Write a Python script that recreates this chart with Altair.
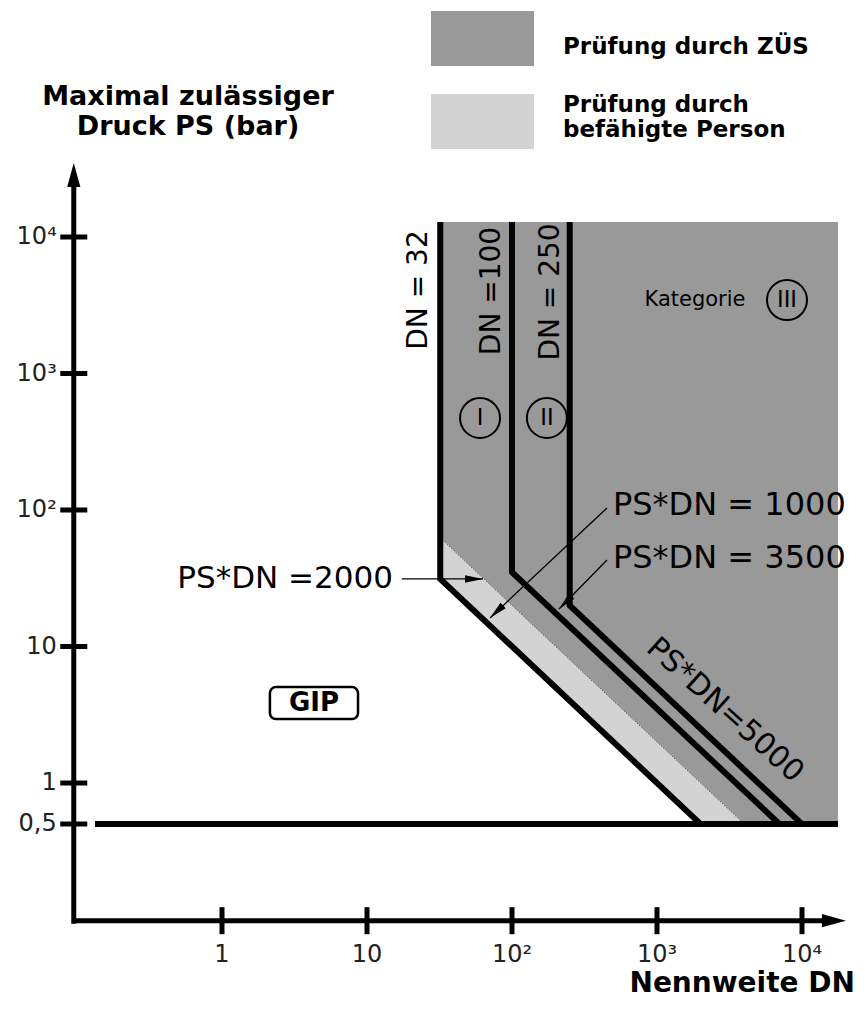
import math
import altair as alt
import pandas as pd

# ---------------- data ----------------
zone_labels = ["Prüfung durch ZÜS", "Prüfung durch|befähigte Person"]
zone_colors = ["#999999", "#d3d3d3"]

# dark zone (ZÜS): above PS*DN = 2000 and right of DN = 32
dark_dn = [32, 4000, 17700]
dark_low = [62.5, 0.5, 0.5]
dark_high = [12900, 12900, 12900]
# light zone (befähigte Person): between PS*DN = 1000 and PS*DN = 2000
light_dn = [32, 2000, 4000]
light_low = [31.25, 0.5, 0.5]
light_high = [62.5, 1.0, 0.5]

limit_dn = [32, 100, 250]            # vertical DN limits
limit_ps_corner = [31.25, 35, 20]    # PS*DN = 1000, 3500, 5000 at the DN limit
limit_dn_end = [2000, 7000, 10000]   # where each PS*DN line reaches PS = 0.5
ps_top = 12900
ps_base = 0.5
base_dn = [0.133, 17700]

boundary_dn = [32, 4000]             # PS*DN = 2000 boundary
boundary_ps = [62.5, 0.5]

x_tick_vals = [1, 10, 100, 1000, 10000]
x_tick_text = ["1", "10", "10²", "10³", "10⁴"]
y_tick_vals = [10000, 1000, 100, 10, 1, 0.5]
y_tick_text = ["10⁴", "10³", "10²", "10", "1", "0,5"]

axis_dn = 0.095
axis_ps = 0.098
y_axis_ps = [0.093, 28000]
x_axis_dn = [0.093, 15800]
y_arrow_ps = 34800
x_arrow_dn = 20100

leader_dn_from = [17.4, 452, 452]
leader_ps_from = [31.25, 103.5, 43.0]
leader_dn_to = [63.1, 70.5, 211]
leader_ps_to = [31.25, 16.2, 18.8]

right_label_text = ["PS*DN =2000"]
right_label_dn = [15.1]
right_label_ps = [31.25]
left_label_text = ["PS*DN  =  1000", "PS*DN  =  3500"]
left_label_dn = [497, 497]
left_label_ps = [108.8, 44.5]

diag_text = ["PS*DN=5000"]
diag_dn = [2944]
diag_ps = [3.42]

dn_text = ["DN = 32", "DN =100", "DN = 250"]
dn_text_dn = [22.8, 72.8, 185.7]
dn_text_ps = [4090, 4020, 3955]

cat_text = ["Kategorie"]
cat_dn = [1828]
cat_ps = [3453]

roman_text = ["I", "II", "III"]
roman_dn = [60.2, 174, 7880]
roman_ps = [472, 472, 3453]

gip_text = ["GIP"]
gip_dn = [4.31]
gip_ps = [3.86]
gip_box_dn = [2.14, 8.67]
gip_box_ps = [5.05, 2.94]

ytitle_text = ["Maximal zulässiger", "Druck PS (bar)"]
ytitle_dn = [0.583, 0.583]
ytitle_ps = [106000, 63900]

xtitle_text = ["Nennweite DN"]
xtitle_dn = [23200]
xtitle_ps = [0.0335]

# ---------------- scales ----------------
W, H = 849, 995
X_LOG = (-1.47586, 4.37931)
Y_LOG = (-1.61172, 5.67766)
xs = alt.Scale(type="log", domain=[10 ** X_LOG[0], 10 ** X_LOG[1]], nice=False)
ys = alt.Scale(type="log", domain=[10 ** Y_LOG[0], 10 ** Y_LOG[1]], nice=False)
PX_X = W / (X_LOG[1] - X_LOG[0])
PX_Y = H / (Y_LOG[1] - Y_LOG[0])


def X(f):
    return alt.X(f, type="quantitative", scale=xs, axis=None)


def Y(f):
    return alt.Y(f, type="quantitative", scale=ys, axis=None, stack=False)


FONT = "DejaVu Sans"

# ---------------- layers ----------------
zones = pd.DataFrame({
    "zone": [zone_labels[0]] * 3 + [zone_labels[1]] * 3,
    "dn": dark_dn + light_dn,
    "low": dark_low + light_low,
    "high": dark_high + light_high,
})
areas = alt.Chart(zones).mark_area(opacity=1, interpolate="linear").encode(
    x=X("dn"), y=Y("low"), y2=alt.Y2("high"),
    color=alt.Color(
        "zone:N",
        scale=alt.Scale(domain=zone_labels, range=zone_colors),
        legend=alt.Legend(
            title=None, orient="none", legendX=447, legendY=-14, direction="vertical",
            symbolType="M-1.8727,-0.3818H1.8727V1.6182H-1.8727Z", symbolSize=3025,
            symbolStrokeWidth=0, symbolOpacity=1,
            labelFont=FONT, labelFontSize=23, labelFontWeight="bold",
            labelColor="black", labelOffset=53, labelLimit=500,
            rowPadding=10, padding=0,
            labelExpr="length(split(datum.label, '|')) > 1 ? split(datum.label, '|') : ['', datum.label]",
        ),
    ),
)

boundary = alt.Chart(pd.DataFrame({
    "dn": [boundary_dn[0]], "ps": [boundary_ps[0]],
    "dn2": [boundary_dn[1]], "ps2": [boundary_ps[1]],
})).mark_rule(color="#555555", strokeWidth=1, strokeDash=[1.5, 1.5]).encode(
    x=X("dn"), y=Y("ps"), x2="dn2", y2="ps2")

rows = []
for dn, pc, de in zip(limit_dn, limit_ps_corner, limit_dn_end):
    rows += [dict(line=str(dn), k=0, dn=dn, ps=ps_top),
             dict(line=str(dn), k=1, dn=dn, ps=pc),
             dict(line=str(dn), k=2, dn=de, ps=ps_base)]
limits = alt.Chart(pd.DataFrame(rows)).mark_line(
    color="black", strokeWidth=6, strokeJoin="miter", strokeCap="butt").encode(
    x=X("dn"), y=Y("ps"), detail="line:N", order=alt.Order("k:Q"))

base = alt.Chart(pd.DataFrame({"dn": [base_dn[0]], "dn2": [base_dn[1]], "ps": [ps_base]})).mark_rule(
    color="black", strokeWidth=6).encode(x=X("dn"), x2="dn2", y=Y("ps"))

yaxis = alt.Chart(pd.DataFrame({"dn": [axis_dn], "ps": [y_axis_ps[0]], "ps2": [y_axis_ps[1]]})).mark_rule(
    color="black", strokeWidth=5).encode(x=X("dn"), y=Y("ps"), y2="ps2")
xaxis = alt.Chart(pd.DataFrame({"dn": [x_axis_dn[0]], "dn2": [x_axis_dn[1]], "ps": [axis_ps]})).mark_rule(
    color="black", strokeWidth=5).encode(x=X("dn"), x2="dn2", y=Y("ps"))

yarrow = alt.Chart(pd.DataFrame({"dn": [axis_dn], "ps": [y_arrow_ps]})).mark_point(
    shape="M0,0L-0.55,2L0.55,2Z", size=576, filled=True, color="black", opacity=1, strokeWidth=0).encode(
    x=X("dn"), y=Y("ps"))
xarrow = alt.Chart(pd.DataFrame({"dn": [x_arrow_dn], "ps": [axis_ps]})).mark_point(
    shape="M0,0L-2,-0.55L-2,0.55Z", size=576, filled=True, color="black", opacity=1, strokeWidth=0).encode(
    x=X("dn"), y=Y("ps"))

xt = pd.DataFrame({"dn": x_tick_vals, "ps": [axis_ps] * len(x_tick_vals), "t": x_tick_text})
yt = pd.DataFrame({"dn": [axis_dn] * len(y_tick_vals), "ps": y_tick_vals, "t": y_tick_text})
xticks = alt.Chart(xt).mark_tick(orient="vertical", size=27, thickness=5, color="black", opacity=1).encode(
    x=X("dn"), y=Y("ps"))
yticks = alt.Chart(yt).mark_tick(orient="horizontal", size=27, thickness=5, color="black", opacity=1).encode(
    x=X("dn"), y=Y("ps"))
xlabels = alt.Chart(xt).mark_text(font=FONT, fontSize=24, color="#222222", dy=34, baseline="middle").encode(
    x=X("dn"), y=Y("ps"), text="t:N")
ylabels = alt.Chart(yt).mark_text(font=FONT, fontSize=24, color="#222222", dx=-17, align="right",
                                  baseline="middle").encode(x=X("dn"), y=Y("ps"), text="t:N")

lead = pd.DataFrame({"dn": leader_dn_from, "ps": leader_ps_from, "dn2": leader_dn_to, "ps2": leader_ps_to})
lead["ang"] = [
    math.degrees(math.atan2(-PX_Y * (math.log10(p2) - math.log10(p1)),
                            PX_X * (math.log10(d2) - math.log10(d1)))) % 360
    for d1, p1, d2, p2 in zip(leader_dn_from, leader_ps_from, leader_dn_to, leader_ps_to)
]
leaders = alt.Chart(lead).mark_rule(color="black", strokeWidth=1.3).encode(
    x=X("dn"), y=Y("ps"), x2="dn2", y2="ps2")
heads = alt.Chart(lead).mark_point(shape="M0,0L-2,-0.42L-2,0.42Z", size=324, filled=True,
                                   color="black", opacity=1, strokeWidth=0).encode(
    x=X("dn2"), y=Y("ps2"), angle=alt.Angle("ang", type="quantitative", scale=None))

rlab = alt.Chart(pd.DataFrame({"dn": right_label_dn, "ps": right_label_ps, "t": right_label_text})).mark_text(
    font=FONT, fontSize=31, align="right", baseline="middle", color="black").encode(
    x=X("dn"), y=Y("ps"), text="t:N")
llab = alt.Chart(pd.DataFrame({"dn": left_label_dn, "ps": left_label_ps, "t": left_label_text})).mark_text(
    font=FONT, fontSize=32, align="left", baseline="middle", color="black").encode(
    x=X("dn"), y=Y("ps"), text="t:N")
dlab = alt.Chart(pd.DataFrame({"dn": diag_dn, "ps": diag_ps, "t": diag_text})).mark_text(
    font=FONT, fontSize=30, align="center", baseline="middle", angle=42, color="black").encode(
    x=X("dn"), y=Y("ps"), text="t:N")
dnlab = alt.Chart(pd.DataFrame({"dn": dn_text_dn, "ps": dn_text_ps, "t": dn_text})).mark_text(
    font=FONT, fontSize=28, align="center", baseline="middle", angle=270, color="black").encode(
    x=X("dn"), y=Y("ps"), text="t:N")
catlab = alt.Chart(pd.DataFrame({"dn": cat_dn, "ps": cat_ps, "t": cat_text})).mark_text(
    font=FONT, fontSize=21, align="center", baseline="middle", color="black").encode(
    x=X("dn"), y=Y("ps"), text="t:N")

rom = pd.DataFrame({"dn": roman_dn, "ps": roman_ps, "t": roman_text})
circles = alt.Chart(rom).mark_point(shape="circle", size=1600, filled=False, color="black",
                                    strokeWidth=2, opacity=1).encode(x=X("dn"), y=Y("ps"))
romans = alt.Chart(rom).mark_text(font="Liberation Sans", fontSize=24, align="center", baseline="middle",
                                  color="black").encode(x=X("dn"), y=Y("ps"), text="t:N")

gipbox = alt.Chart(pd.DataFrame({"dn": [gip_box_dn[0]], "dn2": [gip_box_dn[1]],
                                 "ps": [gip_box_ps[0]], "ps2": [gip_box_ps[1]]})).mark_rect(
    fill="white", stroke="black", strokeWidth=2.5, cornerRadius=6).encode(
    x=X("dn"), x2="dn2", y=Y("ps"), y2="ps2")
giplab = alt.Chart(pd.DataFrame({"dn": gip_dn, "ps": gip_ps, "t": gip_text})).mark_text(
    font=FONT, fontSize=26, fontWeight="bold", align="center", baseline="middle", color="black").encode(
    x=X("dn"), y=Y("ps"), text="t:N")

ytitle = alt.Chart(pd.DataFrame({"dn": ytitle_dn, "ps": ytitle_ps, "t": ytitle_text})).mark_text(
    font=FONT, fontSize=27, fontWeight="bold", align="center", baseline="middle", color="black").encode(
    x=X("dn"), y=Y("ps"), text="t:N")
xtitle = alt.Chart(pd.DataFrame({"dn": xtitle_dn, "ps": xtitle_ps, "t": xtitle_text})).mark_text(
    font=FONT, fontSize=28, fontWeight="bold", align="right", baseline="middle", color="black").encode(
    x=X("dn"), y=Y("ps"), text="t:N")

chart = alt.layer(
    areas, boundary, limits, base, yaxis, xaxis, yarrow, xarrow, xticks, yticks,
    xlabels, ylabels, leaders, heads, rlab, llab, dlab, dnlab, catlab, circles, romans,
    gipbox, giplab, ytitle, xtitle,
).properties(
    width=W, height=H, autosize=alt.AutoSizeParams(type="none"), padding=0,
).configure_view(stroke=None)

chart.save("out.html", embed_options={"renderer": "svg", "actions": False})
